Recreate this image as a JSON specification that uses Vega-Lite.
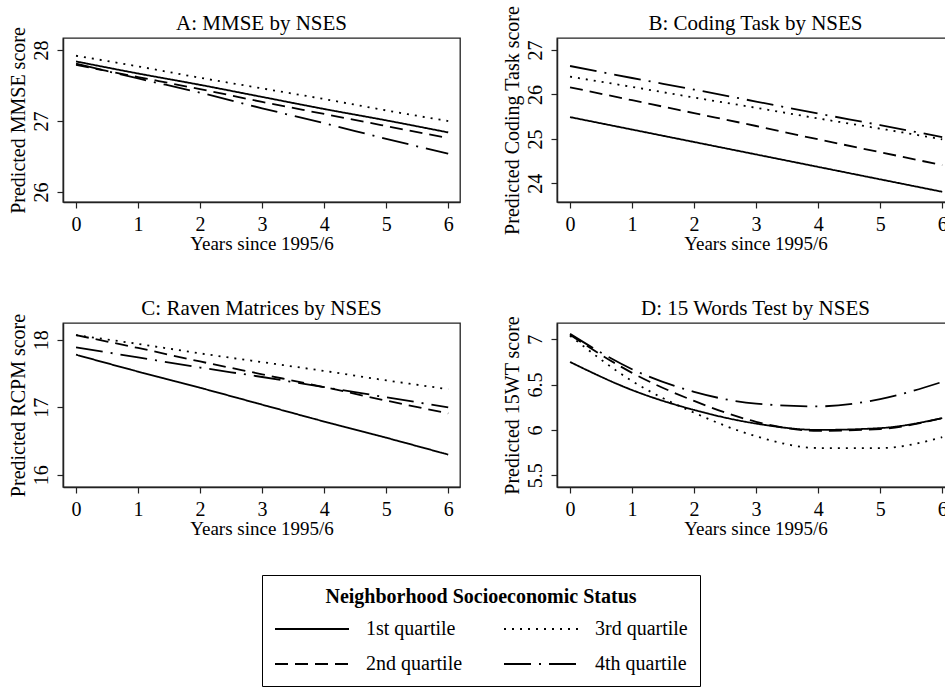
{
  "$schema": "https://vega.github.io/schema/vega-lite/v6.json",
  "background": "white",
  "padding": {"left": 7, "top": 4, "right": 0, "bottom": 0},
  "data": {"values": [
    {"panel":"A","nses":"1st quartile","year":0,"value":27.84},{"panel":"A","nses":"1st quartile","year":1,"value":27.67},{"panel":"A","nses":"1st quartile","year":2,"value":27.51},{"panel":"A","nses":"1st quartile","year":3,"value":27.34},{"panel":"A","nses":"1st quartile","year":4,"value":27.17},{"panel":"A","nses":"1st quartile","year":5,"value":27.01},{"panel":"A","nses":"1st quartile","year":6,"value":26.84},
    {"panel":"A","nses":"2nd quartile","year":0,"value":27.79},{"panel":"A","nses":"2nd quartile","year":1,"value":27.62},{"panel":"A","nses":"2nd quartile","year":2,"value":27.45},{"panel":"A","nses":"2nd quartile","year":3,"value":27.27},{"panel":"A","nses":"2nd quartile","year":4,"value":27.10},{"panel":"A","nses":"2nd quartile","year":5,"value":26.93},{"panel":"A","nses":"2nd quartile","year":6,"value":26.76},
    {"panel":"A","nses":"3rd quartile","year":0,"value":27.92},{"panel":"A","nses":"3rd quartile","year":1,"value":27.77},{"panel":"A","nses":"3rd quartile","year":2,"value":27.61},{"panel":"A","nses":"3rd quartile","year":3,"value":27.46},{"panel":"A","nses":"3rd quartile","year":4,"value":27.31},{"panel":"A","nses":"3rd quartile","year":5,"value":27.15},{"panel":"A","nses":"3rd quartile","year":6,"value":27.00},
    {"panel":"A","nses":"4th quartile","year":0,"value":27.81},{"panel":"A","nses":"4th quartile","year":1,"value":27.60},{"panel":"A","nses":"4th quartile","year":2,"value":27.40},{"panel":"A","nses":"4th quartile","year":3,"value":27.18},{"panel":"A","nses":"4th quartile","year":4,"value":26.97},{"panel":"A","nses":"4th quartile","year":5,"value":26.75},{"panel":"A","nses":"4th quartile","year":6,"value":26.54},
    {"panel":"B","nses":"1st quartile","year":0,"value":25.49},{"panel":"B","nses":"1st quartile","year":1,"value":25.21},{"panel":"B","nses":"1st quartile","year":2,"value":24.93},{"panel":"B","nses":"1st quartile","year":3,"value":24.65},{"panel":"B","nses":"1st quartile","year":4,"value":24.37},{"panel":"B","nses":"1st quartile","year":5,"value":24.09},{"panel":"B","nses":"1st quartile","year":6,"value":23.81},
    {"panel":"B","nses":"2nd quartile","year":0,"value":26.16},{"panel":"B","nses":"2nd quartile","year":1,"value":25.87},{"panel":"B","nses":"2nd quartile","year":2,"value":25.58},{"panel":"B","nses":"2nd quartile","year":3,"value":25.29},{"panel":"B","nses":"2nd quartile","year":4,"value":24.99},{"panel":"B","nses":"2nd quartile","year":5,"value":24.70},{"panel":"B","nses":"2nd quartile","year":6,"value":24.41},
    {"panel":"B","nses":"3rd quartile","year":0,"value":26.40},{"panel":"B","nses":"3rd quartile","year":1,"value":26.17},{"panel":"B","nses":"3rd quartile","year":2,"value":25.93},{"panel":"B","nses":"3rd quartile","year":3,"value":25.70},{"panel":"B","nses":"3rd quartile","year":4,"value":25.46},{"panel":"B","nses":"3rd quartile","year":5,"value":25.23},{"panel":"B","nses":"3rd quartile","year":6,"value":24.99},
    {"panel":"B","nses":"4th quartile","year":0,"value":26.64},{"panel":"B","nses":"4th quartile","year":1,"value":26.37},{"panel":"B","nses":"4th quartile","year":2,"value":26.11},{"panel":"B","nses":"4th quartile","year":3,"value":25.84},{"panel":"B","nses":"4th quartile","year":4,"value":25.57},{"panel":"B","nses":"4th quartile","year":5,"value":25.31},{"panel":"B","nses":"4th quartile","year":6,"value":25.04},
    {"panel":"C","nses":"1st quartile","year":0,"value":17.78},{"panel":"C","nses":"1st quartile","year":1,"value":17.53},{"panel":"C","nses":"1st quartile","year":2,"value":17.29},{"panel":"C","nses":"1st quartile","year":3,"value":17.04},{"panel":"C","nses":"1st quartile","year":4,"value":16.79},{"panel":"C","nses":"1st quartile","year":5,"value":16.55},{"panel":"C","nses":"1st quartile","year":6,"value":16.30},
    {"panel":"C","nses":"2nd quartile","year":0,"value":18.07},{"panel":"C","nses":"2nd quartile","year":1,"value":17.88},{"panel":"C","nses":"2nd quartile","year":2,"value":17.68},{"panel":"C","nses":"2nd quartile","year":3,"value":17.49},{"panel":"C","nses":"2nd quartile","year":4,"value":17.30},{"panel":"C","nses":"2nd quartile","year":5,"value":17.10},{"panel":"C","nses":"2nd quartile","year":6,"value":16.91},
    {"panel":"C","nses":"3rd quartile","year":0,"value":18.07},{"panel":"C","nses":"3rd quartile","year":1,"value":17.94},{"panel":"C","nses":"3rd quartile","year":2,"value":17.80},{"panel":"C","nses":"3rd quartile","year":3,"value":17.67},{"panel":"C","nses":"3rd quartile","year":4,"value":17.54},{"panel":"C","nses":"3rd quartile","year":5,"value":17.40},{"panel":"C","nses":"3rd quartile","year":6,"value":17.27},
    {"panel":"C","nses":"4th quartile","year":0,"value":17.89},{"panel":"C","nses":"4th quartile","year":1,"value":17.74},{"panel":"C","nses":"4th quartile","year":2,"value":17.59},{"panel":"C","nses":"4th quartile","year":3,"value":17.45},{"panel":"C","nses":"4th quartile","year":4,"value":17.30},{"panel":"C","nses":"4th quartile","year":5,"value":17.15},{"panel":"C","nses":"4th quartile","year":6,"value":17.00},
    {"panel":"D","nses":"1st quartile","year":0,"value":6.75},{"panel":"D","nses":"1st quartile","year":1,"value":6.44},{"panel":"D","nses":"1st quartile","year":2,"value":6.22},{"panel":"D","nses":"1st quartile","year":3,"value":6.07},{"panel":"D","nses":"1st quartile","year":4,"value":6.00},{"panel":"D","nses":"1st quartile","year":5,"value":6.02},{"panel":"D","nses":"1st quartile","year":6,"value":6.13},
    {"panel":"D","nses":"2nd quartile","year":0,"value":7.05},{"panel":"D","nses":"2nd quartile","year":1,"value":6.63},{"panel":"D","nses":"2nd quartile","year":2,"value":6.32},{"panel":"D","nses":"2nd quartile","year":3,"value":6.09},{"panel":"D","nses":"2nd quartile","year":4,"value":5.99},{"panel":"D","nses":"2nd quartile","year":5,"value":6.01},{"panel":"D","nses":"2nd quartile","year":6,"value":6.13},
    {"panel":"D","nses":"3rd quartile","year":0,"value":7.04},{"panel":"D","nses":"3rd quartile","year":1,"value":6.54},{"panel":"D","nses":"3rd quartile","year":2,"value":6.19},{"panel":"D","nses":"3rd quartile","year":3,"value":5.93},{"panel":"D","nses":"3rd quartile","year":4,"value":5.80},{"panel":"D","nses":"3rd quartile","year":5,"value":5.80},{"panel":"D","nses":"3rd quartile","year":6,"value":5.92},
    {"panel":"D","nses":"4th quartile","year":0,"value":7.06},{"panel":"D","nses":"4th quartile","year":1,"value":6.67},{"panel":"D","nses":"4th quartile","year":2,"value":6.42},{"panel":"D","nses":"4th quartile","year":3,"value":6.29},{"panel":"D","nses":"4th quartile","year":4,"value":6.26},{"panel":"D","nses":"4th quartile","year":5,"value":6.34},{"panel":"D","nses":"4th quartile","year":6,"value":6.53}
  ]},
  "columns": 2,
  "spacing": {"row": 42, "column": 40},
  "resolve": {"scale": {"x": "independent", "y": "independent", "strokeDash": "shared"}, "legend": {"strokeDash": "shared"}},
  "concat": [
    {
      "title": {"text": "A: MMSE by NSES", "dy": 11},
      "width": 397, "height": 164,
      "transform": [{"filter": "datum.panel === 'A'"}],
      "mark": {"type": "line", "color": "black", "strokeWidth": 1.8, "interpolate": "monotone"},
      "encoding": {
        "x": {"field": "year", "type": "quantitative", "scale": {"domain": [-0.21, 6.19], "nice": false}, "axis": {"values": [0,1,2,3,4,5,6], "title": "Years since 1995/6"}},
        "y": {"field": "value", "type": "quantitative", "scale": {"domain": [25.86, 28.17], "nice": false, "zero": false}, "axis": {"values": [26,27,28], "title": "Predicted MMSE score"}},
        "strokeDash": {"field": "nses", "type": "nominal",
          "scale": {"domain": ["1st quartile","2nd quartile","3rd quartile","4th quartile"], "range": [[1,0],[13,7],[2,6],[27,8,2,8]]},
          "legend": {"title": "Neighborhood Socioeconomic Status"}}
      }
    },
    {
      "title": {"text": "B: Coding Task by NSES", "dy": 33},
      "width": 397, "height": 164,
      "transform": [{"filter": "datum.panel === 'B'"}],
      "mark": {"type": "line", "color": "black", "strokeWidth": 1.8, "interpolate": "monotone"},
      "encoding": {
        "x": {"field": "year", "type": "quantitative", "scale": {"domain": [-0.21, 6.19], "nice": false}, "axis": {"values": [0,1,2,3,4,5,6], "title": "Years since 1995/6"}},
        "y": {"field": "value", "type": "quantitative", "scale": {"domain": [23.58, 27.27], "nice": false, "zero": false}, "axis": {"values": [24,25,26,27], "title": "Predicted Coding Task score"}},
        "strokeDash": {"field": "nses", "type": "nominal",
          "scale": {"domain": ["1st quartile","2nd quartile","3rd quartile","4th quartile"], "range": [[1,0],[13,7],[2,6],[27,8,2,8]]}}
      }
    },
    {
      "title": {"text": "C: Raven Matrices by NSES", "dy": 10},
      "width": 397, "height": 164,
      "transform": [{"filter": "datum.panel === 'C'"}],
      "mark": {"type": "line", "color": "black", "strokeWidth": 1.8, "interpolate": "monotone"},
      "encoding": {
        "x": {"field": "year", "type": "quantitative", "scale": {"domain": [-0.21, 6.19], "nice": false}, "axis": {"values": [0,1,2,3,4,5,6], "title": "Years since 1995/6"}},
        "y": {"field": "value", "type": "quantitative", "scale": {"domain": [15.82, 18.25], "nice": false, "zero": false}, "axis": {"values": [16,17,18], "title": "Predicted RCPM score"}},
        "strokeDash": {"field": "nses", "type": "nominal",
          "scale": {"domain": ["1st quartile","2nd quartile","3rd quartile","4th quartile"], "range": [[1,0],[13,7],[2,6],[27,8,2,8]]}}
      }
    },
    {
      "title": {"text": "D: 15 Words Test by NSES", "dy": 7},
      "width": 397, "height": 164,
      "transform": [{"filter": "datum.panel === 'D'"}],
      "mark": {"type": "line", "color": "black", "strokeWidth": 1.8, "interpolate": "monotone"},
      "encoding": {
        "x": {"field": "year", "type": "quantitative", "scale": {"domain": [-0.21, 6.19], "nice": false}, "axis": {"values": [0,1,2,3,4,5,6], "title": "Years since 1995/6"}},
        "y": {"field": "value", "type": "quantitative", "scale": {"domain": [5.37, 7.18], "nice": false, "zero": false}, "axis": {"values": [5.5,6,6.5,7], "format": "~g", "title": "Predicted 15WT score"}},
        "strokeDash": {"field": "nses", "type": "nominal",
          "scale": {"domain": ["1st quartile","2nd quartile","3rd quartile","4th quartile"], "range": [[1,0],[13,7],[2,6],[27,8,2,8]]}}
      }
    }
  ],
  "config": {
    "font": "Liberation Serif",
    "view": {"stroke": "#222", "strokeWidth": 1.3},
    "title": {"fontSize": 21, "fontWeight": "normal", "color": "black", "offset": 4},
    "axis": {"grid": false, "domainColor": "#222", "domainWidth": 1.5, "tickColor": "#222", "tickWidth": 1.2, "tickSize": 6,
      "labelColor": "black", "titleColor": "black", "labelFontSize": 20, "titleFontSize": 19, "titleFontWeight": "normal", "labelPadding": 6},
    "axisX": {"titlePadding": 0},
    "axisY": {"labelAngle": -90, "labelAlign": "center", "labelBaseline": "bottom", "titlePadding": 3, "titleFontSize": 20},
    "legend": {"orient": "none", "legendX": 199, "legendY": 537, "columns": 2, "symbolType": "stroke", "symbolSize": 5476,
      "symbolStrokeWidth": 1.8, "symbolStrokeColor": "black", "clipHeight": 20,
      "labelFontSize": 20, "labelColor": "black", "labelOffset": 16, "columnPadding": 40, "rowPadding": 15,
      "titleFontSize": 20, "titleFontWeight": "bold", "titleColor": "black", "titleAnchor": "middle", "titlePadding": 12, "titleLimit": 0,
      "strokeColor": "black", "padding": 12}
  }
}
